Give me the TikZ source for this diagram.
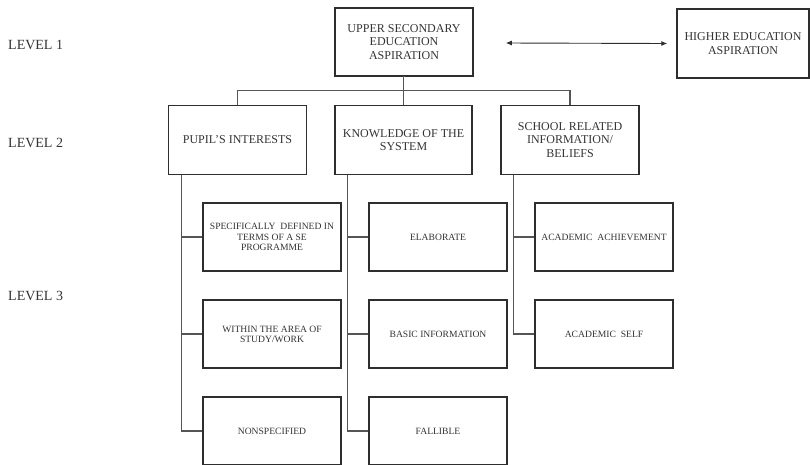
\documentclass[tikz,border=0pt]{standalone}
\usepackage{fontspec}
\setmainfont{Liberation Serif}
\usetikzlibrary{arrows.meta,calc}
\definecolor{txt}{HTML}{333333}
\definecolor{bord}{HTML}{2E2E2E}
\definecolor{conn}{HTML}{555555}
\tikzset{
  box/.style={draw=bord,line width=1.5pt,rectangle,inner sep=0pt,align=center,text=txt,
    font=\fontsize{12}{13.5}\selectfont},
  boxA/.style={box,minimum width=138pt,minimum height=68pt},
  boxB/.style={box,minimum width=138pt,minimum height=69pt},
  boxC/.style={box,minimum width=138pt,minimum height=68pt,font=\fontsize{9.6}{10.2}\selectfont},
  lvl/.style={anchor=west,inner sep=0pt,text=txt,font=\fontsize{14}{16}\selectfont},
  link/.style={draw=conn,line width=1.3pt},
}
\begin{document}
\begin{tikzpicture}[x=1pt,y=-1pt]
\useasboundingbox (0,0) rectangle (810,464);
% level labels
\node[lvl] (l1) at (8,45) {LEVEL 1};
\node[lvl] (l2) at (8,143) {LEVEL 2};
\node[lvl] (l3) at (8,296) {LEVEL 3};
% level 1
\node[boxA] (top) at (404,42) {UPPER SECONDARY\\EDUCATION\\ASPIRATION};
\node[box,minimum width=132pt,minimum height=69pt] (higher) at (743,43.5) {HIGHER EDUCATION\\ASPIRATION};
% level 2
\node[boxB] (pupil) at (237.5,140) {PUPIL’S INTERESTS};
\node[boxB,minimum width=137pt] (know) at (403.5,140) {KNOWLEDGE OF THE\\SYSTEM};
\node[boxB] (school) at (570,140) {SCHOOL RELATED\\INFORMATION/\\BELIEFS};
% level 3
\node[boxC] (p1) at (272,237) {SPECIFICALLY~~DEFINED IN\\TERMS OF A SE\\PROGRAMME};
\node[boxC] (p2) at (272,334) {WITHIN THE AREA OF\\STUDY/WORK};
\node[boxC] (p3) at (272,431) {NONSPECIFIED};
\node[boxC] (k1) at (438,237) {ELABORATE};
\node[boxC] (k2) at (438,334) {BASIC INFORMATION};
\node[boxC] (k3) at (438,431) {FALLIBLE};
\node[boxC] (s1) at (604,237) {ACADEMIC~~ACHIEVEMENT};
\node[boxC] (s2) at (604,334) {ACADEMIC~~SELF};
% arrow
\draw[draw=bord,line width=0.9pt,{Latex[length=6pt,width=5pt]}-{Latex[length=6pt,width=5pt]}]
  ([xshift=32pt,yshift=-1pt]top.east) -- ([xshift=-9pt]higher.west);
% bus
\coordinate (bus) at ($(top.south)!0.5!(know.north)$);
\draw[link] (top.south) -- (know.north |- top.south) -- (know.north);
\draw[link] (pupil.north) |- (bus) -| (school.north);
% stems
\coordinate (ps) at ([xshift=14pt]pupil.south west);
\coordinate (ks) at ([xshift=13pt]know.south west);
\coordinate (ss) at ([xshift=13pt]school.south west);
\draw[link] (ps) |- (p3.west);
\draw[link] (p1.west) -- (p1.west -| ps);
\draw[link] (p2.west) -- (p2.west -| ps);
\draw[link] (ks) |- (k3.west);
\draw[link] (k1.west) -- (k1.west -| ks);
\draw[link] (k2.west) -- (k2.west -| ks);
\draw[link] (ss) |- (s2.west);
\draw[link] (s1.west) -- (s1.west -| ss);
\end{tikzpicture}
\end{document}
